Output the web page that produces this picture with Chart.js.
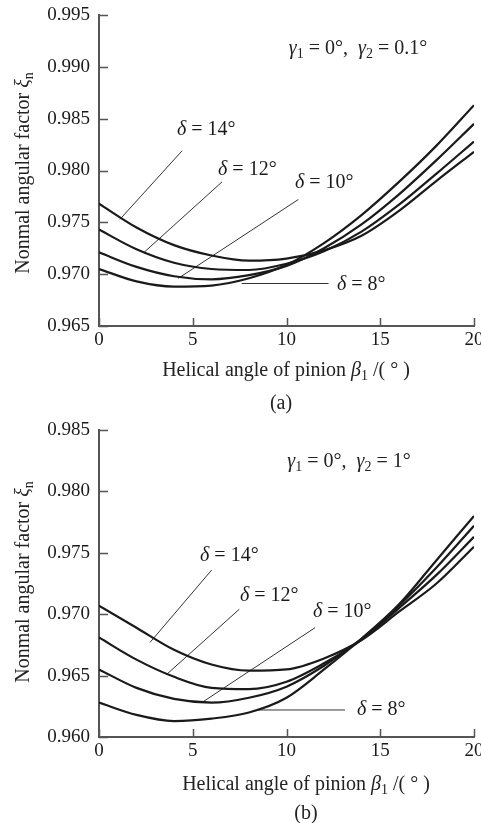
<!DOCTYPE html>
<html>
<head>
<meta charset="utf-8">
<script src="https://cdn.jsdelivr.net/npm/chart.js@4.4.1/dist/chart.umd.min.js"></script>
<style>
  body { margin: 0; background: #fff; font-family: "Liberation Serif", "Times New Roman", serif; color: #222; }
  #wrap { position: relative; width: 481px; height: 823px; overflow: hidden; }
  canvas { position: absolute; left: 0; }
  .t { position: absolute; font-size: 20px; line-height: 1; white-space: nowrap; transform: translate(-50%, -50%); }
  .yt { transform: translate(-50%, -50%) rotate(-90deg); }
  .t sub { font-size: 0.7em; vertical-align: -0.3em; line-height: 0; }
  .t i { font-style: italic; }
</style>
</head>
<body>
<div id="wrap">
  <canvas id="chartA" width="481" height="400" style="top:0"></canvas>
  <canvas id="chartB" width="481" height="423" style="top:400px"></canvas>

  <div class="t yt" style="left:22px;top:173px">Nonmal angular factor <i>ξ</i><sub>n</sub></div>
  <div class="t" style="left:286px;top:369px">Helical angle of pinion <i>β</i><sub>1</sub> /( ° )</div>
  <div class="t" style="left:358px;top:47px"><i>γ</i><sub>1</sub> = 0°,&nbsp; <i>γ</i><sub>2</sub> = 0.1°</div>
  <div class="t" style="left:281px;top:402px">(a)</div>

  <div class="t yt" style="left:22px;top:582px">Nonmal angular factor <i>ξ</i><sub>n</sub></div>
  <div class="t" style="left:306px;top:783px">Helical angle of pinion <i>β</i><sub>1</sub> /( ° )</div>
  <div class="t" style="left:349px;top:460px"><i>γ</i><sub>1</sub> = 0°,&nbsp; <i>γ</i><sub>2</sub> = 1°</div>
  <div class="t" style="left:306px;top:812px">(b)</div>
</div>

<script>
// helical angle of pinion (deg)
const beta = [0, 2, 4, 6, 8, 10, 12, 14, 16, 18, 20];
const xTickValues = [0, 5, 10, 15, 20];
const deltas = [8, 10, 12, 14];

// (a) gamma1 = 0, gamma2 = 0.1
const yTicksA = [0.965, 0.970, 0.975, 0.980, 0.985, 0.990, 0.995];
const a8  = [0.9705, 0.9693, 0.9688, 0.9689, 0.9696, 0.9709, 0.9730, 0.9757, 0.9789, 0.9824, 0.9863];
const a10 = [0.9721, 0.9707, 0.9698, 0.9695, 0.9699, 0.9708, 0.9725, 0.9748, 0.9777, 0.9810, 0.9845];
const a12 = [0.9743, 0.9724, 0.9711, 0.9705, 0.9704, 0.9710, 0.9722, 0.9741, 0.9767, 0.9797, 0.9828];
const a14 = [0.9768, 0.9745, 0.9728, 0.9718, 0.9713, 0.9715, 0.9723, 0.9737, 0.9761, 0.9790, 0.9818];

// (b) gamma1 = 0, gamma2 = 1
const yTicksB = [0.960, 0.965, 0.970, 0.975, 0.980, 0.985];
const b8  = [0.9628, 0.9618, 0.9613, 0.9615, 0.9620, 0.9632, 0.9655, 0.9680, 0.9708, 0.9744, 0.9780];
const b10 = [0.9655, 0.9640, 0.9631, 0.9628, 0.9632, 0.9641, 0.9658, 0.9680, 0.9707, 0.9738, 0.9772];
const b12 = [0.9681, 0.9663, 0.9649, 0.9640, 0.9639, 0.9645, 0.9660, 0.9679, 0.9705, 0.9732, 0.9763];
const b14 = [0.9707, 0.9689, 0.9671, 0.9659, 0.9654, 0.9655, 0.9664, 0.9679, 0.9702, 0.9725, 0.9755];

// leader lines [x0, y0, x1, y1] in data units, order as deltas
const leadersA = [[12.24, 0.9691, 7.61, 0.9691], [10.63, 0.9772, 4.23, 0.9696], [6.56, 0.9789, 2.4, 0.9721], [4.43, 0.9819, 1.12, 0.9753]];
const leadersB = [[13.12, 0.9622, 8.5, 0.9622], [11.52, 0.9689, 5.48, 0.9628], [7.48, 0.9704, 3.61, 0.9651], [6.01, 0.9736, 2.72, 0.9677]];
// label anchors (left, middle) in data units
const labelsA = [[12.69, 0.9690], [10.45, 0.9788], [6.35, 0.9801], [4.16, 0.9839]];
const labelsB = [[13.76, 0.9622], [11.41, 0.9702], [7.52, 0.9715], [5.39, 0.9748]];

const FONT = '"Liberation Serif", "Times New Roman", serif';
const INK = '#1a1a1a';
const AXIS = '#555';

const decorPlugin = {
  id: 'decor',
  afterDraw(chart, args, opts) {
    const { ctx, chartArea, scales } = chart;
    const xs = scales.x, ys = scales.y;
    ctx.save();
    // inward tick marks
    ctx.strokeStyle = AXIS;
    ctx.lineWidth = 1.5;
    ctx.beginPath();
    ys.ticks.forEach(t => {
      const py = Math.round(ys.getPixelForValue(t.value)) + 0.5;
      ctx.moveTo(chartArea.left, py);
      ctx.lineTo(chartArea.left + 9, py);
    });
    xs.ticks.forEach(t => {
      const px = Math.round(xs.getPixelForValue(t.value)) + 0.5;
      ctx.moveTo(px, chartArea.bottom);
      ctx.lineTo(px, chartArea.bottom - 8);
    });
    ctx.stroke();
    // delta labels
    ctx.fillStyle = INK;
    ctx.textBaseline = 'middle';
    ctx.textAlign = 'left';
    opts.labels.forEach((p, i) => {
      let px = xs.getPixelForValue(p[0]);
      const py = ys.getPixelForValue(p[1]);
      ctx.font = 'italic 20px ' + FONT;
      ctx.fillText('δ', px, py);
      px += ctx.measureText('δ').width;
      ctx.font = '20px ' + FONT;
      ctx.fillText(' = ' + deltas[i] + '°', px, py);
    });
    ctx.restore();
  }
};

function makeChart(id, series, ticksY, leaders, labels, padTop, xHeight) {
  const curves = series.map((s, i) => ({
    label: 'δ=' + deltas[i] + '°',
    data: beta.map((b, j) => ({ x: b, y: s[j] })),
    borderColor: INK,
    borderWidth: 2.2,
    pointRadius: 0,
    cubicInterpolationMode: 'monotone',
    fill: false
  }));
  const leads = leaders.map(l => ({
    label: 'leader',
    data: [{ x: l[0], y: l[1] }, { x: l[2], y: l[3] }],
    borderColor: '#333',
    borderWidth: 1,
    pointRadius: 0,
    tension: 0,
    fill: false
  }));
  return new Chart(document.getElementById(id), {
    type: 'line',
    data: { datasets: curves.concat(leads) },
    options: {
      responsive: false,
      animation: false,
      devicePixelRatio: 1,
      layout: { padding: { top: padTop, right: 7, left: 0, bottom: 0 } },
      plugins: {
        legend: { display: false },
        tooltip: { enabled: false },
        decor: { labels: labels }
      },
      scales: {
        x: {
          type: 'linear',
          min: 0, max: 20,
          afterBuildTicks: s => { s.ticks = xTickValues.map(v => ({ value: v })); },
          afterFit: s => { s.height = xHeight; s.paddingLeft = 0; s.paddingRight = 0; },
          grid: { drawOnChartArea: false, drawTicks: false },
          border: { display: true, color: AXIS, width: 2 },
          ticks: { padding: 3, color: INK, font: { family: FONT, size: 19 }, maxRotation: 0, autoSkip: false }
        },
        y: {
          type: 'linear',
          min: ticksY[0], max: ticksY[ticksY.length - 1],
          afterBuildTicks: s => { s.ticks = ticksY.map(v => ({ value: v })); },
          afterFit: s => { s.width = 99; s.paddingTop = 0; s.paddingBottom = 0; },
          grid: { drawOnChartArea: false, drawTicks: false },
          border: { display: true, color: AXIS, width: 2 },
          ticks: { padding: 9, color: INK, font: { family: FONT, size: 19 }, callback: v => v.toFixed(3) }
        }
      }
    },
    plugins: [decorPlugin]
  });
}

makeChart('chartA', [a8, a10, a12, a14], yTicksA, leadersA, labelsA, 15, 74);
makeChart('chartB', [b8, b10, b12, b14], yTicksB, leadersB, labelsB, 30, 86);
</script>
</body>
</html>
